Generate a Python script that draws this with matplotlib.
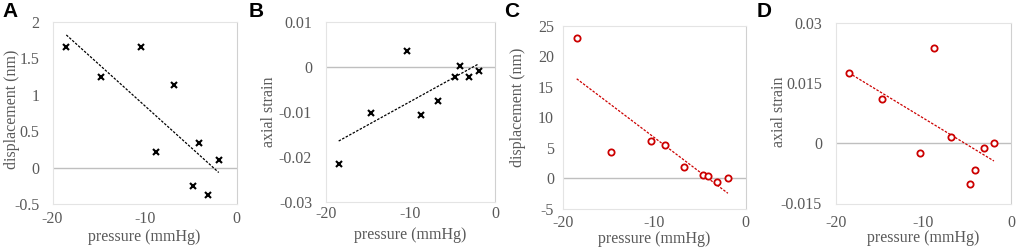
import numpy as np
import matplotlib
matplotlib.use('Agg')
import matplotlib.pyplot as plt

# pressure (mmHg), shared by all four panels
pressure = [-18.5, -14.7, -10.4, -8.8, -6.8, -4.7, -4.1, -3.1, -1.95]

disp_a = [1.66, 1.24, 1.65, 0.22, 1.13, -0.25, 0.34, -0.37, 0.11]
strain_b = [-0.0216, -0.0103, 0.0036, -0.0107, -0.0076, -0.0022, 0.0002, -0.0022, -0.0009]
disp_c = [23.0, 4.36, 6.1, 5.46, 1.8, 0.55, 0.33, -0.65, 0.05]
strain_d = [0.0177, 0.0111, -0.0024, 0.0238, 0.0017, -0.0101, -0.0066, -0.0012, 0.0002]

yticks_a = [-0.5, 0, 0.5, 1, 1.5, 2]
yticks_b = [-0.03, -0.02, -0.01, 0, 0.01]
yticks_c = [-5, 0, 5, 10, 15, 20, 25]
yticks_d = [-0.015, 0, 0.015, 0.03]
ylabels_a = ['-0.5', '0', '0.5', '1', '1.5', '2']
ylabels_b = ['-0.03', '-0.02', '-0.01', '0', '0.01']
ylabels_c = ['-5', '0', '5', '10', '15', '20', '25']
ylabels_d = ['-0.015', '0', '0.015', '0.03']
xticks = [-20, -10, 0]

W, H = 1017, 250
TXT = '#595959'
RED = '#cc0000'
SERIF = 'Liberation Serif'

fig = plt.figure(figsize=(W / 100, H / 100), dpi=100)


def px_axes(left, right, top, bottom):
    return fig.add_axes([left / W, 1 - bottom / H, (right - left) / W, (bottom - top) / H])


panels = [
    # letter, letter x, axes box (l, r, t, b), y data, ticks, labels, ylabel, style,
    # ylabel centre (px), xlabel y (px), x pad, y pad
    ('A', 2, (52.5, 236.7, 22, 204), disp_a, yticks_a, ylabels_a, 'displacement (nm)', 'x',
     (12, 109.5), 237, 5, 9.5),
    ('B', 249, (326, 495, 21.7, 202), strain_b, yticks_b, ylabels_b, 'axial strain', 'x',
     (269, 112), 235, 3, 10),
    ('C', 504, (563, 745.7, 25.7, 209), disp_c, yticks_c, ylabels_c, 'displacement (nm)', 'o',
     (518, 107), 239, 4.5, 6.5),
    ('D', 757, (836, 1011, 23.3, 203.5), strain_d, yticks_d, ylabels_d, 'axial strain', 'o',
     (779, 112), 238, 8, 10),
]

for letter, lx, box, ydata, yt, yl, ylab, style, ylc, xly, xpad, ypad in panels:
    l, r, t, b = box
    ax = px_axes(l, r, t, b)
    x = np.array(pressure)
    y = np.array(ydata)

    ax.axhline(0, color='#bfbfbf', lw=1.0, zorder=1)

    # linear trend line over the data range
    k, c0 = np.polyfit(x, y, 1)
    xs = np.array([x.min(), x.max()])
    if style == 'x':
        ax.plot(xs, k * xs + c0, color='black', lw=0.9, ls=(0, (2, 1.2)), zorder=2)
        ax.plot(x, y, 'x', color='black', ms=5, mew=1.5, zorder=3)
    else:
        ax.plot(xs, k * xs + c0, color=RED, lw=0.9, ls=(0, (2, 1.2)), zorder=2)
        ax.plot(x, y, 'o', mfc='white', mec=RED, ms=4.5, mew=1.3, zorder=3)

    ax.set_xlim(-20, 0)
    ax.set_ylim(yt[0], yt[-1])
    ax.set_xticks(xticks)
    ax.set_xticklabels([str(v) for v in xticks])
    ax.set_yticks(yt)
    ax.set_yticklabels(yl)
    for lab in ax.get_xticklabels() + ax.get_yticklabels():
        lab.set_fontfamily(SERIF)
        lab.set_fontsize(11.5)
        lab.set_color(TXT)
    ax.tick_params(axis='x', length=0, pad=xpad)
    ax.tick_params(axis='y', length=0, pad=ypad)

    for s in ax.spines.values():
        s.set_color('#e4e4e4')
        s.set_linewidth(0.8)
    ax.spines['right'].set_color('#d0d0d0')

    ax.set_ylabel(ylab, fontfamily=SERIF, fontsize=11.5, color=TXT, va='center')
    ax.yaxis.set_label_coords((ylc[0] - l) / (r - l), (b - ylc[1]) / (b - t))
    ax.set_xlabel('pressure (mmHg)', fontfamily=SERIF, fontsize=11.5, color=TXT, va='center')
    ax.xaxis.set_label_coords(0.5, (b - xly) / (b - t))

    fig.text(lx / W, 1 - 2 / H, letter, fontfamily='Liberation Sans', fontweight='bold',
             fontsize=15, ha='left', va='top')

fig.savefig('out.png', dpi=100)
